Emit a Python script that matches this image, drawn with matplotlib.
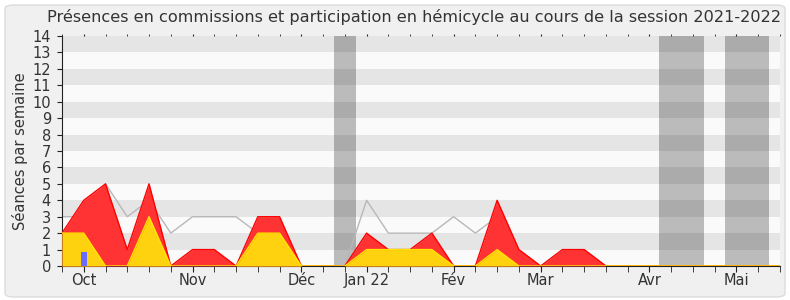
import matplotlib
matplotlib.use("Agg")
import matplotlib.pyplot as plt
from matplotlib.patches import FancyBboxPatch
import numpy as np

# Weekly data (week index 0..33)
weeks = list(range(34))
hemicycle = [2, 4, 5, 1, 5, 0, 1, 1, 0, 3, 3, 0, 0, 0, 2, 1, 1, 2, 0, 0, 4, 1, 0, 1, 1, 0, 0, 0, 0, 0, 0, 0, 0, 0]
commission = [2, 2, 0, 0, 3, 0, 0, 0, 0, 2, 2, 0, 0, 0, 1, 1, 1, 1, 0, 0, 1, 0, 0, 0, 0, 0, 0, 0, 0, 0, 0, 0, 0, 0]
median = [3, 3, 5, 3, 4, 2, 3, 3, 3, 2, 2, 0, 0, 0, 4, 2, 2, 2, 3, 2, 3, 0, 0, 0, 0, 0, 0, 0, 0, 0, 0, 0, 0, 0]
blue_weeks = [1]
blue_values = [0.85]
vacations = [(12.5, 13.5), (27.45, 29.5), (30.45, 32.5)]
month_ticks = [1, 6, 11, 14, 18, 22, 27, 31]
month_labels = ["Oct", "Nov", "Déc", "Jan 22", "Fév", "Mar", "Avr", "Mai"]
title = "Présences en commissions et participation en hémicycle au cours de la session 2021-2022"
ylabel = "Séances par semaine"

fig = plt.figure(figsize=(7.9, 3.0), dpi=100)
fig.patch.set_facecolor("white")
bg = FancyBboxPatch((5 / 790, 3 / 300), 780 / 790, 292 / 300,
                    boxstyle="round,pad=0,rounding_size=0.012",
                    transform=fig.transFigure, facecolor="#f0f0f0",
                    edgecolor="#dcdcdc", linewidth=1, zorder=-10)
fig.patches.append(bg)

ax = fig.add_axes([62 / 790, 1 - 266 / 300, 718 / 790, 230 / 300])
ax.set_facecolor("#fafafa")
ax.set_xlim(0, 33)
ax.set_ylim(0, 14)

# horizontal bands
for y in range(1, 14, 2):
    ax.axhspan(y, y + 1, color="#e5e5e5", zorder=0, lw=0)
for a, b in vacations:
    ax.axvspan(a, b, color="black", alpha=0.25, zorder=1, lw=0)

ax.plot(weeks, median, color="#b8b8b8", lw=1, zorder=2)
ax.fill_between(weeks, 0, hemicycle, color="#ff3333", lw=0, zorder=3)
ax.plot(weeks, hemicycle, color="#ff0000", lw=1, zorder=3.5)
ax.fill_between(weeks, 0, commission, color="#ffd20f", lw=0, zorder=4)
ax.plot(weeks, commission, color="#ffe600", lw=1, zorder=4.5)
ax.bar(blue_weeks, blue_values, width=0.28, color="#6b6bff", zorder=5)

for s in ["top", "right"]:
    ax.spines[s].set_visible(False)
ax.spines["left"].set_color("#222222")
ax.spines["bottom"].set_color("#222222")

ax.set_yticks(range(0, 15))
ax.set_xticks(month_ticks)
ax.set_xticklabels(month_labels)
ax.set_xticks(weeks, minor=True)
ax.tick_params(axis="y", labelsize=10.5, length=3.5, color="#222222", labelcolor="#333333", pad=4.5)
ax.tick_params(axis="x", which="both", length=4, color="#222222", labelsize=10.5,
               labelcolor="#333333", pad=1)
ax.tick_params(axis="x", which="both", top=True, direction="out")
for t in ax.xaxis.get_major_ticks() + ax.xaxis.get_minor_ticks():
    t.tick2line.set_markersize(1.5)
ax.set_ylabel(ylabel, fontsize=10.5, color="#333333", labelpad=3)
fig.text(414 / 790, 1 - 17 / 300, title, ha="center", va="center", fontsize=11.6, color="#333333")

fig.savefig("out.png", dpi=100, facecolor=fig.get_facecolor())
